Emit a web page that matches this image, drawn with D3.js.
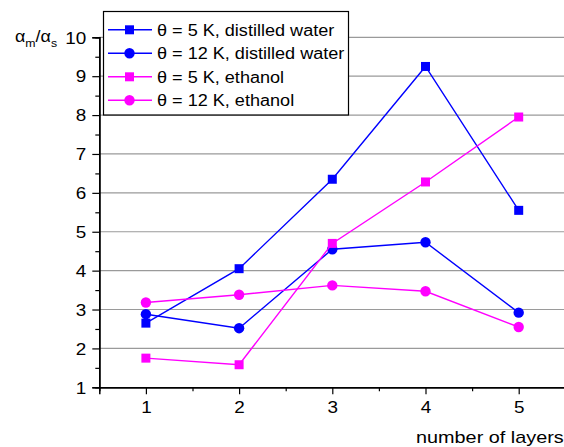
<!DOCTYPE html>
<html>
<head>
<meta charset="utf-8">
<script src="https://cdn.jsdelivr.net/npm/d3@7"></script>
<style>
  body { margin: 0; background: #fff; }
  text { font-family: "Liberation Sans", Arial, sans-serif; fill: #000; }
</style>
</head>
<body>
<svg id="chart"></svg>
<script>
// layer counts on the x axis
var layers = [1, 2, 3, 4, 5];
var yTicks = [1, 2, 3, 4, 5, 6, 7, 8, 9, 10];

// ratio values
var water5K = [2.65, 4.05, 6.35, 9.25, 5.55];
var water12K = [2.88, 2.52, 4.55, 4.73, 2.92];
var ethanol5K = [1.75, 1.58, 4.70, 6.28, 7.95];
var ethanol12K = [3.18, 3.38, 3.62, 3.47, 2.55];

var seriesNames = ["\u03b8 = 5 K, distilled water", "\u03b8 = 12 K, distilled water",
                   "\u03b8 = 5 K, ethanol", "\u03b8 = 12 K, ethanol"];

var width = 564, height = 447;
var fontSize = 16; // text in the original is a bit wide, so it gets stretched

var series = [
  { name: seriesNames[0], values: water5K, color: "#0000ff", shape: "square" },
  { name: seriesNames[1], values: water12K, color: "#0000ff", shape: "circle" },
  { name: seriesNames[2], values: ethanol5K, color: "#ff00ff", shape: "square" },
  { name: seriesNames[3], values: ethanol12K, color: "#ff00ff", shape: "circle" }
];

var svg = d3.select("#chart")
  .attr("width", width)
  .attr("height", height);

// scales
var x = d3.scaleLinear().domain([0.5, 5.5]).range([99.3, 565.3]);
var y = d3.scaleLinear().domain([1, 10]).range([387.3, 37.3]);

// horizontal grid lines
svg.append("g")
  .selectAll("line")
  .data(yTicks.slice(1))
  .enter().append("line")
  .attr("x1", x(0.5)).attr("x2", width)
  .attr("y1", function (d) { return y(d); })
  .attr("y2", function (d) { return y(d); })
  .attr("stroke", "#9a9a9a")
  .attr("stroke-width", 1.2);

// place a text at (tx, ty) stretched sideways
function stretched(sel, tx, ty, sx) {
  sel.attr("x", 0).attr("y", 0)
    .attr("transform", "translate(" + tx + "," + ty + ") scale(" + (sx || 1.15) + ",1)")
    .style("font-size", fontSize + "px");
}

// y axis with minor ticks
var yAxis = svg.append("g").attr("transform", "translate(" + x(0.5) + ",0)");
yAxis.call(d3.axisLeft(y).tickValues(yTicks).tickSize(7).tickFormat(d3.format("d")));
yAxis.append("g").call(d3.axisLeft(y)
  .tickValues(d3.range(1.5, 10, 1)).tickSize(4).tickFormat(""));
yAxis.selectAll("path").attr("stroke", "#000").attr("stroke-width", 1.5);
yAxis.selectAll(".tick line").attr("stroke", "#000").attr("stroke-width", 1.2);
yAxis.selectAll("text").attr("fill", "#000").attr("dy", null).call(stretched, -13, 5.8, 1.18);

// x axis with minor ticks
var xAxis = svg.append("g").attr("transform", "translate(0," + y(1) + ")");
xAxis.call(d3.axisBottom(x).tickValues(layers).tickSize(7).tickFormat(d3.format("d")));
xAxis.append("g").call(d3.axisBottom(x)
  .tickValues([1.5, 2.5, 3.5, 4.5, 5.5]).tickSize(4).tickFormat(""));
xAxis.selectAll("path").attr("stroke", "#000").attr("stroke-width", 1.5);
xAxis.selectAll(".tick line").attr("stroke", "#000").attr("stroke-width", 1.2);
xAxis.selectAll("text").attr("fill", "#000").attr("dy", null).call(stretched, 0, 26, 1.18);

// axis titles
svg.append("text")
  .attr("text-anchor", "start")
  .text("number of layers")
  .call(stretched, 416, 443, 1.24);

var yTitle = svg.append("text").call(stretched, 15, 42, 1.12);
yTitle.append("tspan").text("\u03b1");
yTitle.append("tspan").attr("dy", 5).style("font-size", "11px").text("m");
yTitle.append("tspan").attr("dy", -5).text("/\u03b1");
yTitle.append("tspan").attr("dy", 5).style("font-size", "11px").text("s");

// series lines and markers
var line = d3.line()
  .x(function (d, i) { return x(layers[i]); })
  .y(function (d) { return y(d); });

function drawMarker(g, shape, color, cx, cy) {
  if (shape === "square") {
    g.append("rect")
      .attr("x", cx - 4.5).attr("y", cy - 4.5)
      .attr("width", 9).attr("height", 9)
      .attr("fill", color);
  } else {
    g.append("circle")
      .attr("cx", cx).attr("cy", cy).attr("r", 5.2)
      .attr("fill", color);
  }
}

series.forEach(function (s) {
  var g = svg.append("g");
  g.append("path")
    .attr("d", line(s.values))
    .attr("fill", "none")
    .attr("stroke", s.color)
    .attr("stroke-width", 1.4);
  s.values.forEach(function (v, i) {
    drawMarker(g, s.shape, s.color, x(layers[i]), y(v));
  });
});

// legend
var legend = svg.append("g");
legend.append("rect")
  .attr("x", 103.5).attr("y", 11.5)
  .attr("width", 245).attr("height", 103.5)
  .attr("fill", "#fff")
  .attr("stroke", "#000")
  .attr("stroke-width", 1.2);

series.forEach(function (s, i) {
  var cy = 29.8 + i * 23.5;
  legend.append("line")
    .attr("x1", 108).attr("x2", 152)
    .attr("y1", cy).attr("y2", cy)
    .attr("stroke", s.color).attr("stroke-width", 1.4);
  drawMarker(legend, s.shape, s.color, 129.5, cy);
  legend.append("text")
    .text(s.name)
    .call(stretched, 157, cy + 5.8, 1.13);
});
</script>
</body>
</html>
